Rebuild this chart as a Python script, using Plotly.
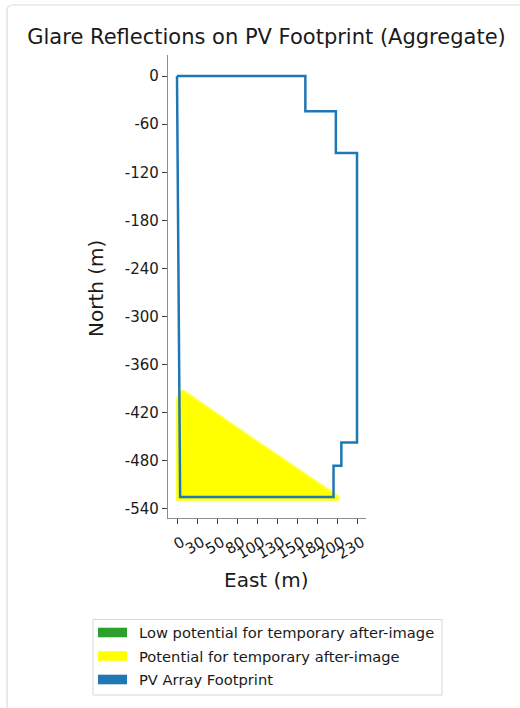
import numpy as np
import plotly.graph_objects as go

# PV array footprint outline (east, north in metres)
footprint_east = [0, 164, 164, 203, 203, 230, 230, 210, 210, 200, 200, 4, 0]
footprint_north = [0, 0, -44, -44, -96, -96, -457, -457, -486, -486, -525, -525, 0]

# Extent of glare reflections: potential for temporary after-image
glare_east = [-1, 1, 3, 8, 100, 206, 207, 206, -1]
glare_north = [-404, -398, -394, -392, -454, -524, -527, -529.5, -529.5]

# Tick positions and their rounded labels
x_tickvals = list(np.linspace(0, 230, 10))
x_ticktext = ["0", "30", "50", "80", "100", "130", "150", "180", "200", "230"]
y_tickvals = [0, -60, -120, -180, -240, -300, -360, -420, -480, -540]
y_ticktext = ["0", "-60", "-120", "-180", "-240", "-300", "-360", "-420", "-480", "-540"]

legend_labels = ["Low potential for temporary after-image",
                 "Potential for temporary after-image",
                 "PV Array Footprint"]
legend_colors = ["#2ca02c", "#ffff00", "#1f77b4"]

W, H = 520, 708
ML, MR, MT, MB = 168, 154, 55, 190
PW = W - ML - MR
PH = H - MT - MB


def px(x):
    return (x - ML) / PW


def py(y):
    return (H - MB - y) / PH


FONT = "DejaVu Sans"
TXT = "#1a1a1a"

fig = go.Figure()

fig.add_trace(go.Scatter(
    x=glare_east, y=glare_north, mode="lines", fill="toself",
    fillcolor="#ffff00", line=dict(color="rgba(255,255,60,0.8)", width=2),
    hoverinfo="skip", showlegend=False,
))
fig.add_trace(go.Scatter(
    x=footprint_east, y=footprint_north, mode="lines",
    line=dict(color="#1f77b4", width=2.5), showlegend=False,
))

shapes = []
annotations = []

# card outline around the figure
cx0, cy0, r = 7, 5, 6
card_path = (f"M {px(cx0)},{py(H + 20)} L {px(cx0)},{py(cy0 + r)} "
             f"Q {px(cx0)},{py(cy0)} {px(cx0 + r)},{py(cy0)} L {px(W + 20)},{py(cy0)}")
shapes.append(dict(type="path", xref="paper", yref="paper", path=card_path,
                   line=dict(color="#dcdcdc", width=1.2), layer="below"))

# legend box
shapes.append(dict(type="rect", xref="paper", yref="paper",
                   x0=px(93), x1=px(442), y0=py(619.5), y1=py(695),
                   line=dict(color="#d6d6d6", width=1), fillcolor="white"))
row_y = [632.5, 656, 679.5]
for lab, col, yc in zip(legend_labels, legend_colors, row_y):
    shapes.append(dict(type="rect", xref="paper", yref="paper",
                       x0=px(98), x1=px(127), y0=py(yc - 4.8), y1=py(yc + 4.8),
                       line=dict(width=0), fillcolor=col))
    annotations.append(dict(xref="paper", yref="paper", x=px(137), y=py(yc),
                            xanchor="left", yanchor="middle", showarrow=False,
                            text=lab, font=dict(family=FONT, size=14.7, color=TXT)))

# axis titles
annotations.append(dict(xref="paper", yref="paper", x=px(266), y=py(580),
                        xanchor="center", yanchor="middle", showarrow=False,
                        text="East (m)", font=dict(family=FONT, size=20, color=TXT)))
annotations.append(dict(xref="paper", yref="paper", x=px(96), y=py(289),
                        xanchor="center", yanchor="middle", showarrow=False,
                        textangle=-90, text="North (m)",
                        font=dict(family=FONT, size=20, color=TXT)))

fig.update_layout(
    width=W, height=H,
    margin=dict(l=ML, r=MR, t=MT, b=MB, pad=0),
    paper_bgcolor="white", plot_bgcolor="white",
    title=dict(text="Glare Reflections on PV Footprint (Aggregate)",
               x=266.5 / W, xref="container", xanchor="center",
               y=1 - 37 / H, yref="container", yanchor="middle",
               font=dict(family=FONT, size=21, color=TXT)),
    shapes=shapes, annotations=annotations,
    showlegend=False,
)

fig.update_xaxes(
    range=[-11.5, 241.5], showgrid=False, zeroline=False,
    showline=True, linecolor="#8c8c8c", linewidth=1.2,
    ticks="outside", ticklen=5, tickwidth=1.2, tickcolor="#404040",
    tickvals=x_tickvals, ticktext=x_ticktext, tickangle=-30,
    ticklabelshift=5, ticklabelstandoff=4,
    tickfont=dict(family=FONT, size=15, color=TXT),
)
fig.update_yaxes(
    range=[-551.25, 26.25], showgrid=False, zeroline=False,
    showline=True, linecolor="#8c8c8c", linewidth=1.2,
    ticks="outside", ticklen=5, tickwidth=1.2, tickcolor="#404040",
    tickvals=y_tickvals, ticktext=y_ticktext,
    tickfont=dict(family=FONT, size=15, color=TXT),
)

fig.write_html("out.html")
